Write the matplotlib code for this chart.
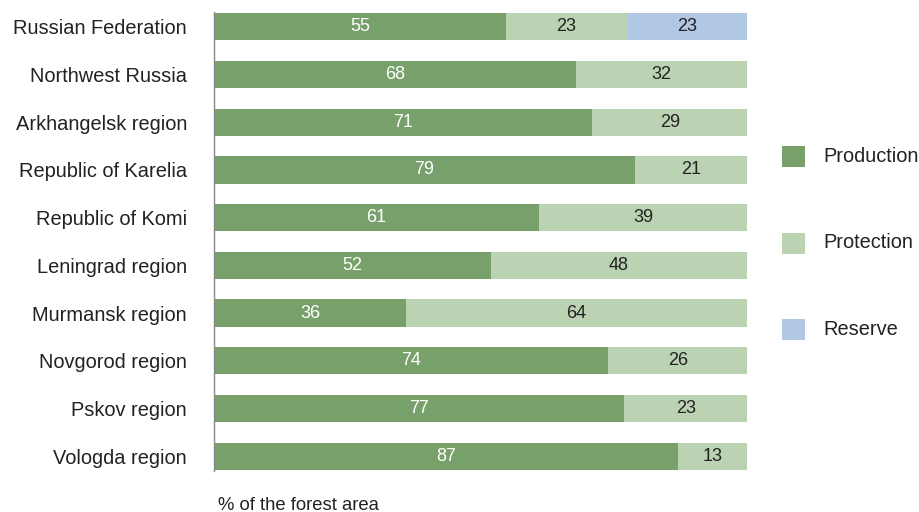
import matplotlib
matplotlib.use("Agg")
import matplotlib.pyplot as plt
from matplotlib.patches import Rectangle

plt.rcParams['font.family'] = ['Liberation Sans', 'DejaVu Sans']

regions = ["Russian Federation", "Northwest Russia", "Arkhangelsk region",
           "Republic of Karelia", "Republic of Komi", "Leningrad region",
           "Murmansk region", "Novgorod region", "Pskov region", "Vologda region"]
production = [54.8, 68, 71, 79, 61, 52, 36, 74, 77, 87]
protection = [22.6, 32, 29, 21, 39, 48, 64, 26, 23, 13]
reserve = [22.6, 0, 0, 0, 0, 0, 0, 0, 0, 0]

series_names = ["Production", "Protection", "Reserve"]
colors = ["#78a06a", "#bcd3b3", "#b0c8e3"]
text_colors = ["white", "#222222", "#222222"]

W, H = 920, 512
fig = plt.figure(figsize=(W / 100, H / 100), dpi=100)
ax = fig.add_axes([214 / W, 1 - 471 / H, (747 - 214) / W, (471 - 12) / H])

ypos = list(range(len(regions)))
h = 0.57
left = [0.0] * len(regions)
for vals, col, tcol in zip([production, protection, reserve], colors, text_colors):
    ax.barh(ypos, vals, left=left, height=h, color=col, edgecolor="none")
    for y, v, l in zip(ypos, vals, left):
        if v > 0:
            ax.text(l + v / 2, y, "%.0f" % v, ha="center", va="center",
                    color=tcol, fontsize=13)
    left = [a + b for a, b in zip(left, vals)]

ax.set_xlim(0, 100)
ax.set_ylim(len(regions) - 1 + 0.31, -0.31)
ax.set_yticks(ypos)
ax.set_yticklabels(regions, fontsize=14.4, color="#222222")
ax.tick_params(axis="y", length=0, pad=19.5)
ax.set_xticks([])
for s in ["top", "right", "bottom"]:
    ax.spines[s].set_visible(False)
ax.spines["left"].set_color("#888888")
ax.spines["left"].set_linewidth(1.0)

fig.text(218 / W, 1 - 505 / H, "% of the forest area", fontsize=13.3,
         color="#222222", ha="left", va="center")

# legend: colour swatch plus series name, stacked vertically
legend_y = [156.5, 243, 329.5]
for name, col, yc in zip(series_names, colors, legend_y):
    fig.add_artist(Rectangle((782 / W, 1 - (yc + 10.5) / H), 23 / W, 21 / H,
                             transform=fig.transFigure, facecolor=col,
                             edgecolor="none"))
    fig.text(823 / W, 1 - yc / H, name, fontsize=14.4, color="#222222",
             ha="left", va="center")

fig.savefig("out.png", dpi=100)
